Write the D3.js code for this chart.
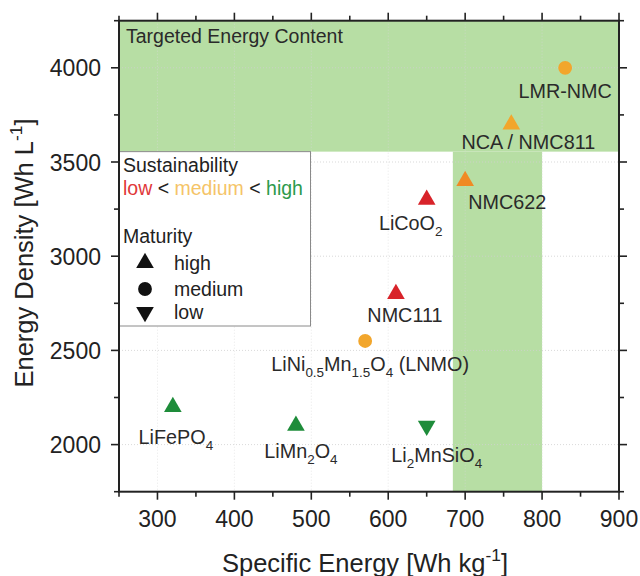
<!DOCTYPE html>
<html><head><meta charset="utf-8">
<script src="https://cdn.jsdelivr.net/npm/d3@7"></script>
<style>
html,body{margin:0;padding:0;background:#fff;}
svg text{font-family:"Liberation Sans",Arial,Helvetica,sans-serif;}
</style></head>
<body><svg id="c" width="640" height="576"></svg>
<script>
// ---- data ----
const materials = ["LMR-NMC","NCA / NMC811","NMC622","LiCoO_2","NMC111","LiNi_{0.5}Mn_{1.5}O_4 (LNMO)","LiMn_2O_4","LiFePO_4","Li_2MnSiO_4"];
const specificEnergy = [830,760,700,650,610,570,480,320,650];
const energyDensity  = [4000,3700,3400,3300,2800,2550,2100,2200,2100];
const sustainability = ["medium","medium","medium-low","low","low","medium","high","high","high"];
const maturity       = ["medium","high","high","high","high","medium","high","high","low"];
const xTicks = [300,400,500,600,700,800,900];
const yTicks = [2000,2500,3000,3500,4000];
const targetBandY = [3555,4250];   // horizontal target band (energy density)
const targetBandX = [684,800];     // vertical target band (specific energy)
const legendSustain = ["low","medium","high"];
const legendMaturity = ["high","medium","low"];

// ---- layout / style ----
const L=119, R=619, T=20.7, B=491.7;
const svg=d3.select("#c");
const x=d3.scaleLinear().domain([250,900]).range([L,R]);
const y=d3.scaleLinear().domain([1750,4250]).range([B,T]);
const color=d3.scaleOrdinal().domain(["low","medium-low","medium","high"]).range(["#d8232a","#f08a24","#f2a62c","#1e8c3a"]);
const legendColor=d3.scaleOrdinal().domain(["low","medium","high"]).range(["#e0383a","#f5c468","#2c9a4c"]);
const shape=d3.scaleOrdinal().domain(["high","medium","low"]).range([d3.symbolTriangle,d3.symbolCircle,d3.symbolTriangle]);
const symSize={high:135,medium:150,low:135};
const LFS=19.8; // label font size
// label offsets (px) relative to each point
const labelOff=[[0,30,"middle"],[17,25,"middle"],[3,28,"start"],[-16,30,"middle"],[9,28,"middle"],[5,30,"middle"],[5,32,"middle"],[3,37,"middle"],[10,36,"middle"]];

function richText(sel, str, fs){
  const re=/_\{([^}]*)\}|_(.)|\^\{([^}]*)\}/g; let last=0,m;
  const parts=[];
  while((m=re.exec(str))){ if(m.index>last) parts.push([str.slice(last,m.index),0]);
    if(m[1]!==undefined) parts.push([m[1],1]); else if(m[2]!==undefined) parts.push([m[2],1]); else parts.push([m[3],-1]);
    last=re.lastIndex; }
  if(last<str.length) parts.push([str.slice(last),0]);
  let state=0;
  parts.forEach(([t,s])=>{
    const ts=sel.append("tspan").text(t);
    const target = s===1? fs*0.3 : s===-1? -fs*0.42 : 0;
    const dy = target - state; state = target;
    if(dy) ts.attr("dy",dy);
    if(s!==0) ts.attr("font-size",fs*0.68);
  });
}

// target region
svg.append("rect").attr("x",x(250)).attr("y",y(targetBandY[1])).attr("width",x(900)-x(250)).attr("height",y(targetBandY[0])-y(targetBandY[1])).attr("fill","#b7dea4");
svg.append("rect").attr("x",x(targetBandX[0])).attr("y",y(targetBandY[0])).attr("width",x(targetBandX[1])-x(targetBandX[0])).attr("height",B-y(targetBandY[0])).attr("fill","#b7dea4");
// grid
svg.append("g").selectAll("line").data(xTicks.slice(0,-1)).join("line")
  .attr("x1",d=>x(d)).attr("x2",d=>x(d)).attr("y1",T).attr("y2",B)
  .attr("stroke","#d8d8d8").attr("stroke-opacity",0.6).attr("stroke-width",1).attr("stroke-dasharray","1,2");
svg.append("g").selectAll("line").data(yTicks).join("line")
  .attr("x1",L).attr("x2",R).attr("y1",d=>y(d)).attr("y2",d=>y(d))
  .attr("stroke","#cfcfcf").attr("stroke-opacity",0.8).attr("stroke-width",1).attr("stroke-dasharray","1,2");

svg.append("text").attr("x",126).attr("y",43).attr("font-size",19.5).attr("fill","#2a2a2a").text("Targeted Energy Content");

// legend box
const lg=svg.append("g");
lg.append("rect").attr("x",L).attr("y",y(targetBandY[0])).attr("width",310.5-L).attr("height",326-y(targetBandY[0])).attr("fill","#fff").attr("stroke","#8a8a8a").attr("stroke-width",1);
lg.append("text").attr("x",123).attr("y",172).attr("font-size",19.5).attr("fill","#222").text("Sustainability");
const sl=lg.append("text").attr("x",123).attr("y",195).attr("font-size",19.5);
legendSustain.forEach((k,i)=>{
  sl.append("tspan").attr("fill",legendColor(k)).text(k);
  if(i<legendSustain.length-1) sl.append("tspan").attr("fill","#222").text(" < ");
});
lg.append("text").attr("x",123).attr("y",243).attr("font-size",19.5).attr("fill","#222").text("Maturity");
legendMaturity.forEach((k,i)=>{
  const cy=[263,289,312][i];
  lg.append("path").attr("d",d3.symbol().type(shape(k)).size(symSize[k])())
    .attr("transform",`translate(145,${cy})${k==="low"?" rotate(180)":""}`).attr("fill","#111");
  lg.append("text").attr("x",174).attr("y",[270,296,319][i]).attr("font-size",19.5).attr("fill","#222").text(k);
});

// points
const pts=svg.append("g");
materials.forEach((m,i)=>{
  const px=x(specificEnergy[i]), py=y(energyDensity[i]);
  pts.append("path").attr("d",d3.symbol().type(shape(maturity[i])).size(symSize[maturity[i]])())
    .attr("transform",`translate(${px},${py})${maturity[i]==="low"?" rotate(180)":""}`)
    .attr("fill",color(sustainability[i]));
  const [dx,dy,anc]=labelOff[i];
  const t=pts.append("text").attr("x",px+dx).attr("y",py+dy).attr("text-anchor",anc).attr("font-size",LFS).attr("fill","#2a2a2a");
  richText(t,m,LFS);
});

// axes
const ax=svg.append("g").attr("stroke","#222").attr("fill","none");
ax.append("rect").attr("x",L).attr("y",T).attr("width",R-L).attr("height",B-T).attr("stroke-width",2);
const xMinor=d3.range(250,901,50), yMinor=d3.range(1750,4251,250);
xMinor.forEach(v=>{
  const major = v%100===0; const len=major?8:5;
  ax.append("line").attr("x1",x(v)).attr("x2",x(v)).attr("y1",B).attr("y2",B+len).attr("stroke-width",1.6);
  ax.append("line").attr("x1",x(v)).attr("x2",x(v)).attr("y1",T).attr("y2",T-len).attr("stroke-width",1.6);
});
yMinor.forEach(v=>{
  const major = v%500===0; const len=major?8:5;
  ax.append("line").attr("x1",L).attr("x2",L-len).attr("y1",y(v)).attr("y2",y(v)).attr("stroke-width",1.6);
  ax.append("line").attr("x1",R).attr("x2",R+len).attr("y1",y(v)).attr("y2",y(v)).attr("stroke-width",1.6);
});
svg.append("g").selectAll("text").data(xTicks).join("text")
  .attr("x",d=>x(d)).attr("y",B+35).attr("text-anchor","middle").attr("font-size",23).attr("fill","#222").text(d=>d);
svg.append("g").selectAll("text").data(yTicks).join("text")
  .attr("x",L-18).attr("y",d=>y(d)+8.5).attr("text-anchor","end").attr("font-size",23).attr("fill","#222").text(d=>d);

const xt=svg.append("text").attr("x",365).attr("y",572).attr("text-anchor","middle").attr("font-size",25.5).attr("fill","#222");
richText(xt,"Specific Energy [Wh kg^{-1}]",25.5);
const yt=svg.append("text").attr("transform","translate(33,253) rotate(-90)").attr("text-anchor","middle").attr("font-size",25.5).attr("fill","#222");
richText(yt,"Energy Density [Wh L^{-1}]",25.5);
</script></body></html>
